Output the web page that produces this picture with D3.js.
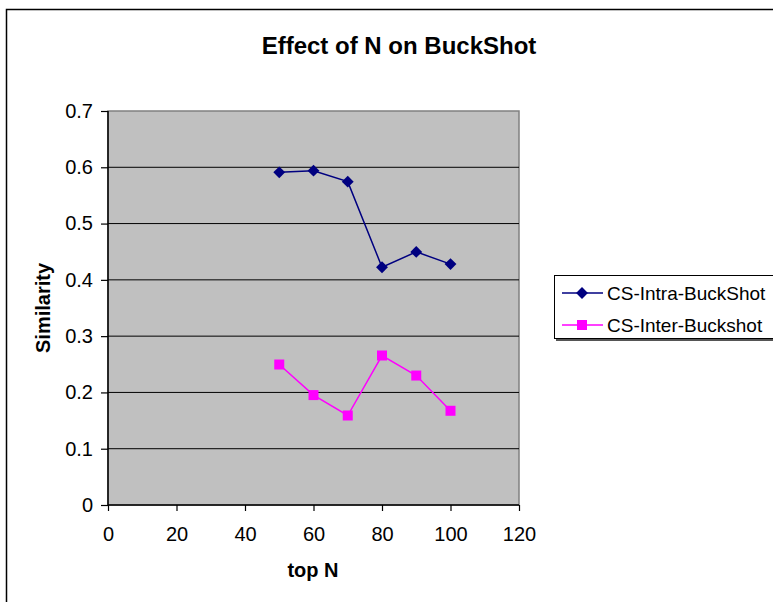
<!DOCTYPE html>
<html><head><meta charset="utf-8">
<script src="https://cdn.jsdelivr.net/npm/d3@7"></script>
<style>body{margin:0;background:#fff;}svg{display:block;font-family:"Liberation Sans",Arial,sans-serif;}</style>
</head><body><svg id="c" width="773" height="602"></svg>
<script>
const xValues = [50, 60, 70, 80, 90, 100];
const intraValues = [0.591, 0.594, 0.5745, 0.4225, 0.4497, 0.428];
const interValues = [0.2496, 0.1953, 0.159, 0.2656, 0.230, 0.1674];
const seriesNames = ["CS-Intra-BuckShot", "CS-Inter-Buckshot"];
const xTicks = [0, 20, 40, 60, 80, 100, 120];
const yTicks = [0, 0.1, 0.2, 0.3, 0.4, 0.5, 0.6, 0.7];

const svg = d3.select("#c");
const L = 108, R = 519, T = 111, B = 505;
const x = d3.scaleLinear().domain([0, 120]).range([L, R]);
const y = d3.scaleLinear().domain([0, 0.7]).range([B, T]);

// outer chart border
svg.append("rect").attr("x", 6.5).attr("y", 9.5).attr("width", 800).attr("height", 700)
  .attr("fill", "#fff").attr("stroke", "#000").attr("stroke-width", 1.5);

// plot area
svg.append("rect").attr("x", L).attr("y", T).attr("width", R - L).attr("height", B - T)
  .attr("fill", "#C0C0C0").attr("stroke", "#808080").attr("stroke-width", 1.5);

// gridlines
svg.append("g").selectAll("line").data(yTicks.filter(d => d > 0 && d < 0.7)).join("line")
  .attr("x1", L).attr("x2", R).attr("y1", d => y(d)).attr("y2", d => y(d))
  .attr("stroke", "#000").attr("stroke-width", 1);

// axes
const yAxis = d3.axisLeft(y).tickValues(yTicks).tickFormat(d => d === 0 ? "0" : d3.format(".1f")(d)).tickSize(7).tickPadding(8);
const gy = svg.append("g").attr("transform", `translate(${L},0)`).call(yAxis);
const xAxis = d3.axisBottom(x).tickValues(xTicks).tickFormat(d3.format("d")).tickSize(6).tickPadding(16);
const gx = svg.append("g").attr("transform", `translate(0,${B})`).call(xAxis);
[gy, gx].forEach(g => {
  g.attr("font-size", 20).attr("font-family", "Liberation Sans, Arial, sans-serif");
  g.select(".domain").attr("stroke", "#000").attr("stroke-width", 1.5);
  g.selectAll(".tick line").attr("stroke", "#000").attr("stroke-width", 1.2);
  g.selectAll("text").attr("fill", "#000");
});
gx.select(".domain").attr("d", `M${L},0H${R}`);
gy.select(".domain").attr("d", `M0,${B}V${T}`);

// lines
const line = d3.line().x(d => x(d[0])).y(d => y(d[1]));
const intra = xValues.map((v, i) => [v, intraValues[i]]);
const inter = xValues.map((v, i) => [v, interValues[i]]);
svg.append("path").datum(intra).attr("d", line).attr("fill", "none").attr("stroke", "#000080").attr("stroke-width", 1.5);
svg.append("path").datum(inter).attr("d", line).attr("fill", "none").attr("stroke", "#FF00FF").attr("stroke-width", 1.5);

const diamond = d3.symbol().type(d3.symbolDiamond2).size(90);
svg.append("g").selectAll("path").data(intra).join("path")
  .attr("d", diamond).attr("transform", d => `translate(${x(d[0])},${y(d[1])})`).attr("fill", "#000080");
svg.append("g").selectAll("rect").data(inter).join("rect")
  .attr("x", d => x(d[0]) - 5).attr("y", d => y(d[1]) - 5).attr("width", 10).attr("height", 10)
  .attr("fill", "#FF00FF");

// title
svg.append("text").attr("x", 399).attr("y", 54).attr("text-anchor", "middle")
  .attr("font-size", 24).attr("font-weight", "bold").text("Effect of N on BuckShot");
// axis titles
svg.append("text").attr("x", 313).attr("y", 577).attr("text-anchor", "middle")
  .attr("font-size", 20).attr("font-weight", "bold").text("top N");
svg.append("text").attr("transform", "translate(50,308) rotate(-90)").attr("text-anchor", "middle")
  .attr("font-size", 20).attr("font-weight", "bold").text("Similarity");

// legend
const lg = svg.append("g");
lg.append("rect").attr("x", 556).attr("y", 278).attr("width", 230).attr("height", 63).attr("fill", "#555");
lg.append("rect").attr("x", 554.5).attr("y", 275.5).attr("width", 230).attr("height", 63)
  .attr("fill", "#fff").attr("stroke", "#000").attr("stroke-width", 1);
const rows = [
  {name: seriesNames[0], color: "#000080", shape: "diamond", yy: 293},
  {name: seriesNames[1], color: "#FF00FF", shape: "square", yy: 325}
];
rows.forEach(r => {
  lg.append("line").attr("x1", 562).attr("x2", 603).attr("y1", r.yy).attr("y2", r.yy)
    .attr("stroke", r.color).attr("stroke-width", 1.5);
  if (r.shape === "diamond") {
    lg.append("path").attr("d", diamond).attr("transform", `translate(582,${r.yy})`).attr("fill", r.color);
  } else {
    lg.append("rect").attr("x", 577).attr("y", r.yy - 5).attr("width", 10).attr("height", 10).attr("fill", r.color);
  }
  lg.append("text").attr("x", 607).attr("y", r.yy + 7).attr("font-size", 19).text(r.name);
});
</script></body></html>
